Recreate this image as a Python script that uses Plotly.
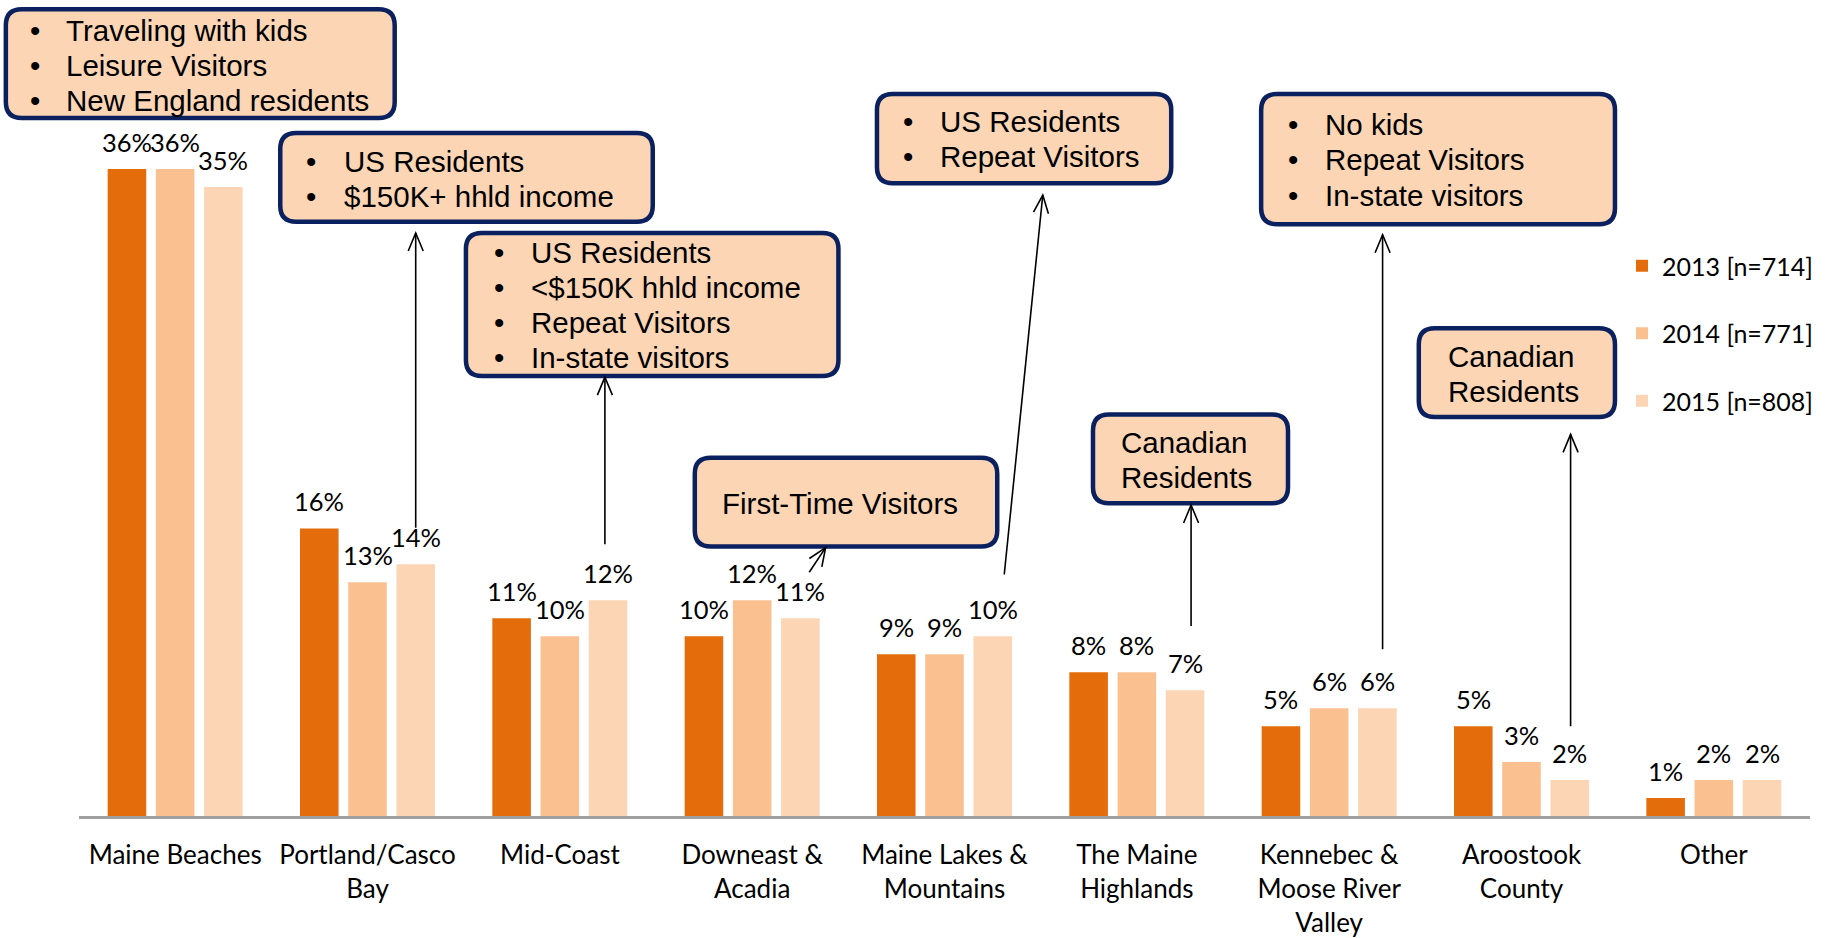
import math
import plotly.graph_objects as go

# ---------------- data ----------------
categories = ["Maine Beaches", "Portland/Casco<br>Bay", "Mid-Coast", "Downeast &amp;<br>Acadia",
              "Maine Lakes &amp;<br>Mountains", "The Maine<br>Highlands",
              "Kennebec &amp;<br>Moose River<br>Valley", "Aroostook<br>County", "Other"]
series_names = ["2013 [n=714]", "2014 [n=771]", "2015 [n=808]"]
v2013 = [36, 16, 11, 10, 9, 8, 5, 5, 1]
v2014 = [36, 13, 10, 12, 9, 8, 6, 3, 2]
v2015 = [35, 14, 12, 11, 10, 7, 6, 2, 2]
series_values = [v2013, v2014, v2015]
series_colors = ["#E46C0A", "#FAC090", "#FCD5B5"]

callout_texts = [
    ["Traveling with kids", "Leisure Visitors", "New England residents"],
    ["US Residents", "$150K+ hhld income"],
    ["US Residents", "&lt;$150K hhld income", "Repeat Visitors", "In-state visitors"],
    ["First-Time Visitors"],
    ["US Residents", "Repeat Visitors"],
    ["No kids", "Repeat Visitors", "In-state visitors"],
    ["Canadian", "Residents"],
    ["Canadian", "Residents"],
]
callout_bullets = [True, True, True, False, True, True, False, False]

# ---------------- layout geometry (pixels) ----------------
FW, FH = 1831, 938
ML, MR, MT, MB = 79, 21, 0, 122
PW = FW - ML - MR
PH = FH - MT - MB
S = 1831 / 1568.0


def fx(x):
    return (x - ML) / PW


def fy(y):
    return (PH + MT - y) / PH


# box geometry in reference (shrunk) pixels: x0, y0, x1, y1, first line y, bullet x, text x
boxes = [
    (5, 8, 338, 101, 26, 30, 55),
    (240, 114, 559, 190, 138.5, 266, 293),
    (399, 199.5, 718, 322, 216, 427, 453),
    (595, 392, 854, 468, 431, None, 617),
    (751, 80.5, 1003, 157, 104, 778, 803),
    (1080, 80.5, 1383, 192, 107, 1107, 1133),
    (936, 355, 1103, 431, 379, None, 958),
    (1215, 281, 1383, 357, 305, None, 1238),
]
LINE_STEP = 30  # shrunk px between lines

arrows = [
    (356, 452, 356, 199.5),
    (518, 466, 518, 323),
    (693, 490, 707, 469),
    (860, 492, 893, 167),
    (1020, 536, 1020, 432.5),
    (1184, 556, 1184, 201),
    (1345, 622, 1345, 372),
]

fig = go.Figure()
for name, vals, col in zip(series_names, series_values, series_colors):
    fig.add_trace(go.Bar(x=categories, y=vals, name=name, marker=dict(color=col, line=dict(width=0)),
                         legendgroup=name, hoverinfo="skip"))

annotations = []
shapes = []

LABEL_FONT = dict(family="Lato, Carlito, Calibri, sans-serif", size=25.5, color="black")
slot = PW / len(categories) * (1 - 0.248) / 3
for i, vals in enumerate(series_values):
    for c, v in zip(categories, vals):
        annotations.append(dict(x=c, y=v, xref="x", yref="y", text=f"{v}%", showarrow=False,
                                xshift=(i - 1) * slot, yshift=27, yanchor="middle",
                                font=LABEL_FONT))


def rrect_path(x0, y0, x1, y1, r):
    rx = r / PW
    ry = r / PH
    X0, X1 = fx(x0), fx(x1)
    Y0, Y1 = fy(y0), fy(y1)  # Y0 top (larger), Y1 bottom
    p = (f"M {X0+rx},{Y0} L {X1-rx},{Y0} Q {X1},{Y0} {X1},{Y0-ry} "
         f"L {X1},{Y1+ry} Q {X1},{Y1} {X1-rx},{Y1} "
         f"L {X0+rx},{Y1} Q {X0},{Y1} {X0},{Y1+ry} "
         f"L {X0},{Y0-ry} Q {X0},{Y0} {X0+rx},{Y0} Z")
    return p


BOX_FONT = dict(family="Liberation Sans, Arial, sans-serif", size=29.5, color="black")
for (x0, y0, x1, y1, ly, bx, tx), lines, bul in zip(boxes, callout_texts, callout_bullets):
    shapes.append(dict(type="path", path=rrect_path(x0 * S, y0 * S, x1 * S, y1 * S, 16),
                       xref="paper", yref="paper", fillcolor="#FCD5B5",
                       line=dict(color="#0B215F", width=4.5), layer="above"))
    for k, t in enumerate(lines):
        yy = fy((ly + k * LINE_STEP) * S)
        if bul:
            annotations.append(dict(x=fx(bx * S), y=yy, xref="paper", yref="paper", text="•",
                                    showarrow=False, xanchor="center", yanchor="middle", font=BOX_FONT))
        annotations.append(dict(x=fx(tx * S), y=yy, xref="paper", yref="paper", text=t,
                                showarrow=False, xanchor="left", yanchor="middle", font=BOX_FONT))

HEAD_LEN, HEAD_HALF = 18, 7.5
for (ax0, ay0, ax1, ay1) in arrows:
    X0, Y0, X1, Y1 = ax0 * S, ay0 * S, ax1 * S, ay1 * S
    shapes.append(dict(type="line", x0=fx(X0), y0=fy(Y0), x1=fx(X1), y1=fy(Y1),
                       xref="paper", yref="paper", line=dict(color="black", width=1.6), layer="above"))
    dx, dy = X1 - X0, Y1 - Y0
    n = math.hypot(dx, dy)
    ux, uy = dx / n, dy / n
    px_, py_ = -uy, ux
    bx_, by_ = X1 - ux * HEAD_LEN, Y1 - uy * HEAD_LEN
    la = (bx_ + px_ * HEAD_HALF, by_ + py_ * HEAD_HALF)
    lb = (bx_ - px_ * HEAD_HALF, by_ - py_ * HEAD_HALF)
    path = (f"M {fx(la[0])},{fy(la[1])} L {fx(X1)},{fy(Y1)} L {fx(lb[0])},{fy(lb[1])}")
    shapes.append(dict(type="path", path=path, xref="paper", yref="paper",
                       line=dict(color="black", width=1.6), layer="above"))

fig.update_layout(
    width=FW, height=FH,
    margin=dict(l=ML, r=MR, t=MT, b=MB, pad=0),
    paper_bgcolor="white", plot_bgcolor="white",
    barmode="group", bargap=0.248, bargroupgap=0.2,
    showlegend=True,
    legend=dict(x=fx(1622), xanchor="left", y=fy(243), yanchor="top",
                font=dict(family="Lato, Carlito, Calibri, sans-serif", size=25, color="black"),
                bgcolor="rgba(0,0,0,0)", traceorder="grouped", tracegroupgap=32),
    xaxis=dict(showline=True, linecolor="#A0A0A0", linewidth=2.5, ticks="", showgrid=False,
               tickfont=dict(family="Lato, Carlito, Calibri, sans-serif", size=26, color="black"),
               ticklabelstandoff=14, fixedrange=True),
    yaxis=dict(range=[0, 45.4], visible=False, showgrid=False, zeroline=False, fixedrange=True),
    annotations=annotations,
    shapes=shapes,
)

fig.write_html("out.html", config={"displayModeBar": False},
               post_script="document.body.style.margin='0';document.body.style.overflow='hidden';")
